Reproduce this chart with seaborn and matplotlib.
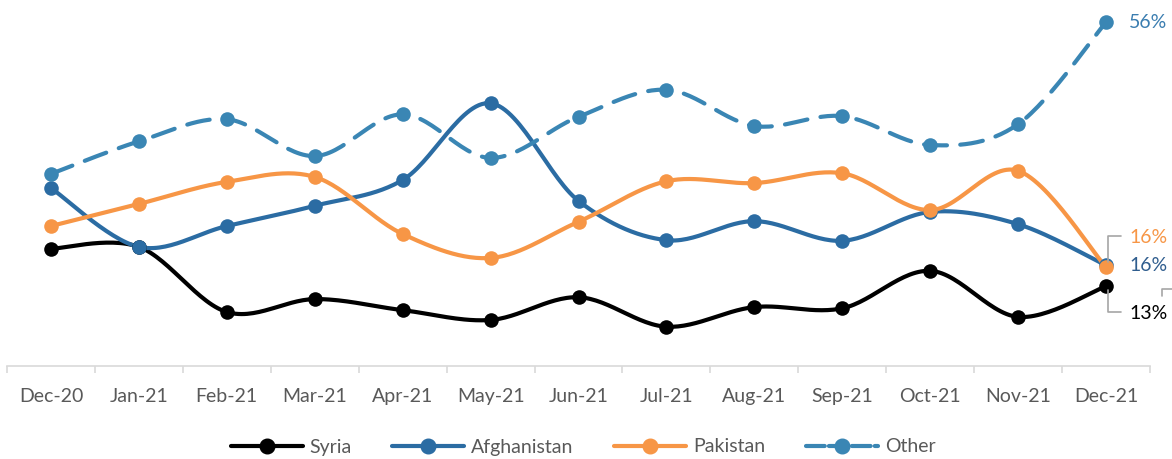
import numpy as np
import pandas as pd
import matplotlib
matplotlib.use("Agg")
import matplotlib.pyplot as plt
import seaborn as sns
from matplotlib.lines import Line2D

months = ["Dec-20", "Jan-21", "Feb-21", "Mar-21", "Apr-21", "May-21", "Jun-21",
          "Jul-21", "Aug-21", "Sep-21", "Oct-21", "Nov-21", "Dec-21"]
syria = [19.1, 19.4, 8.8, 10.9, 9.1, 7.5, 11.2, 6.4, 9.6, 9.4, 15.5, 8.0, 13.0]
afghanistan = [29.0, 19.4, 22.8, 26.1, 30.3, 42.8, 26.9, 20.5, 23.6, 20.4, 25.1, 23.1, 16.4]
pakistan = [22.8, 26.4, 30.0, 30.8, 21.5, 17.6, 23.5, 30.1, 29.8, 31.4, 25.4, 31.8, 16.1]
other = [31.3, 36.6, 40.2, 34.2, 41.0, 33.9, 40.6, 45.0, 39.1, 40.7, 36.0, 39.4, 56.0]
end_labels = ["13%", "16%", "16%", "56%"]

sns.set_theme(style="white")
plt.rcParams['font.family'] = ['Lato', 'DejaVu Sans']

C_SYR = "#000000"
C_AFG = "#2B6CA3"
C_PAK = "#F79646"
C_OTH = "#3A86B4"


def smooth(x, y, n=30):
    # Excel-style smoothed line: cubic Bezier segments through the points
    x = np.asarray(x, float); y = np.asarray(y, float)
    px, py = [], []
    m = len(x)
    for i in range(m - 1):
        x0, y0 = (x[i - 1], y[i - 1]) if i > 0 else (x[i], y[i])
        x3, y3 = (x[i + 2], y[i + 2]) if i + 2 < m else (x[i + 1], y[i + 1])
        c1x = x[i] + (x[i + 1] - x0) / 6; c1y = y[i] + (y[i + 1] - y0) / 6
        c2x = x[i + 1] - (x3 - x[i]) / 6; c2y = y[i + 1] - (y3 - y[i]) / 6
        t = np.linspace(0, 1, n, endpoint=(i == m - 2))
        b0 = (1 - t) ** 3; b1 = 3 * (1 - t) ** 2 * t; b2 = 3 * (1 - t) * t ** 2; b3 = t ** 3
        px.append(b0 * x[i] + b1 * c1x + b2 * c2x + b3 * x[i + 1])
        py.append(b0 * y[i] + b1 * c1y + b2 * c2y + b3 * y[i + 1])
    return np.concatenate(px), np.concatenate(py)


fig = plt.figure(figsize=(11.72, 4.59), dpi=100)
ax = fig.add_axes([7 / 1172, 1 - 366 / 459, (1150 - 7) / 1172, 364 / 459])

xs = np.arange(len(months))
series = [("Syria", syria, C_SYR, "-"), ("Afghanistan", afghanistan, C_AFG, "-"),
          ("Pakistan", pakistan, C_PAK, "-"), ("Other", other, C_OTH, "--")]

for name, vals, col, ls in series:
    sx, sy = smooth(xs, vals)
    df = pd.DataFrame({"x": sx, "y": sy})
    line_kw = dict(lw=3.0, solid_capstyle="round")
    if ls == "--":
        line_kw = dict(lw=3.0, dashes=(5.5, 3.2), dash_capstyle="round")
    sns.lineplot(data=df, x="x", y="y", sort=False, estimator=None, color=col,
                 ax=ax, zorder=3, **line_kw)
    sns.scatterplot(x=xs, y=vals, color=col, s=110, edgecolor=col, linewidth=0,
                    ax=ax, zorder=4)

ax.set_xlim(-0.5, len(months) - 0.5)
ax.set_ylim(0, 59.3)
ax.set_xlabel(""); ax.set_ylabel("")
ax.set_yticks([])
ax.set_xticks(xs)
ax.set_xticklabels(months, color="#595959", fontsize=14)
ax.set_xticks(np.arange(-0.5, len(months), 1), minor=True)
ax.tick_params(axis="x", which="major", length=0, pad=16)
ax.tick_params(axis="x", which="minor", length=5, width=1.2, color="#D9D9D9", bottom=True)
for s in ["top", "right", "left"]:
    ax.spines[s].set_visible(False)
ax.spines["bottom"].set_color("#D9D9D9")
ax.spines["bottom"].set_linewidth(1.2)

# end labels
last = len(months) - 1
lbl_kw = dict(fontsize=14, va="center", ha="left")
dx = 1129 - 1106
ax.annotate(end_labels[3], xy=(last, other[-1]), xytext=(dx, 0),
            textcoords="offset pixels", color="#3A7DB0", **lbl_kw)
ax.annotate(end_labels[1], xy=(last, afghanistan[-1]), xytext=(dx, 0),
            textcoords="offset pixels", color="#2F5D8E", **lbl_kw)
ax.annotate(end_labels[2], xy=(last, pakistan[-1]), xytext=(dx, 30),
            textcoords="offset pixels", color=C_PAK, **lbl_kw)
ax.annotate(end_labels[0], xy=(last, syria[-1]), xytext=(dx, -27),
            textcoords="offset pixels", color="#000000", **lbl_kw)


# leader lines (figure pixel coordinates)
def fig_line(xp, yp):
    fig.add_artist(Line2D(np.array(xp) / 1172, 1 - np.array(yp) / 459,
                          color="#A6A6A6", lw=1.2, transform=fig.transFigure))


fig_line([1108, 1108, 1121], [262, 236, 236])
fig_line([1108, 1108, 1121], [290, 312, 312])
fig_line([1162, 1162, 1172], [296, 289, 289])

# legend
handles = []
for name, vals, col, ls in series:
    if ls == "--":
        h = Line2D([], [], color=col, lw=3, ls=(0, (4.5, 1.0)), marker="o",
                   markersize=10.5, dash_capstyle="round")
    else:
        h = Line2D([], [], color=col, lw=3, marker="o", markersize=10.5)
    handles.append(h)
leg = fig.legend(handles, [s[0] for s in series], loc="center",
                 bbox_to_anchor=(583 / 1172, 1 - 447 / 459), ncol=4, frameon=False,
                 fontsize=14, handlelength=3.7, columnspacing=2.1, handletextpad=0.35,
                 borderpad=0)
for t in leg.get_texts():
    t.set_color("#595959")

fig.savefig("out.png", dpi=100)
